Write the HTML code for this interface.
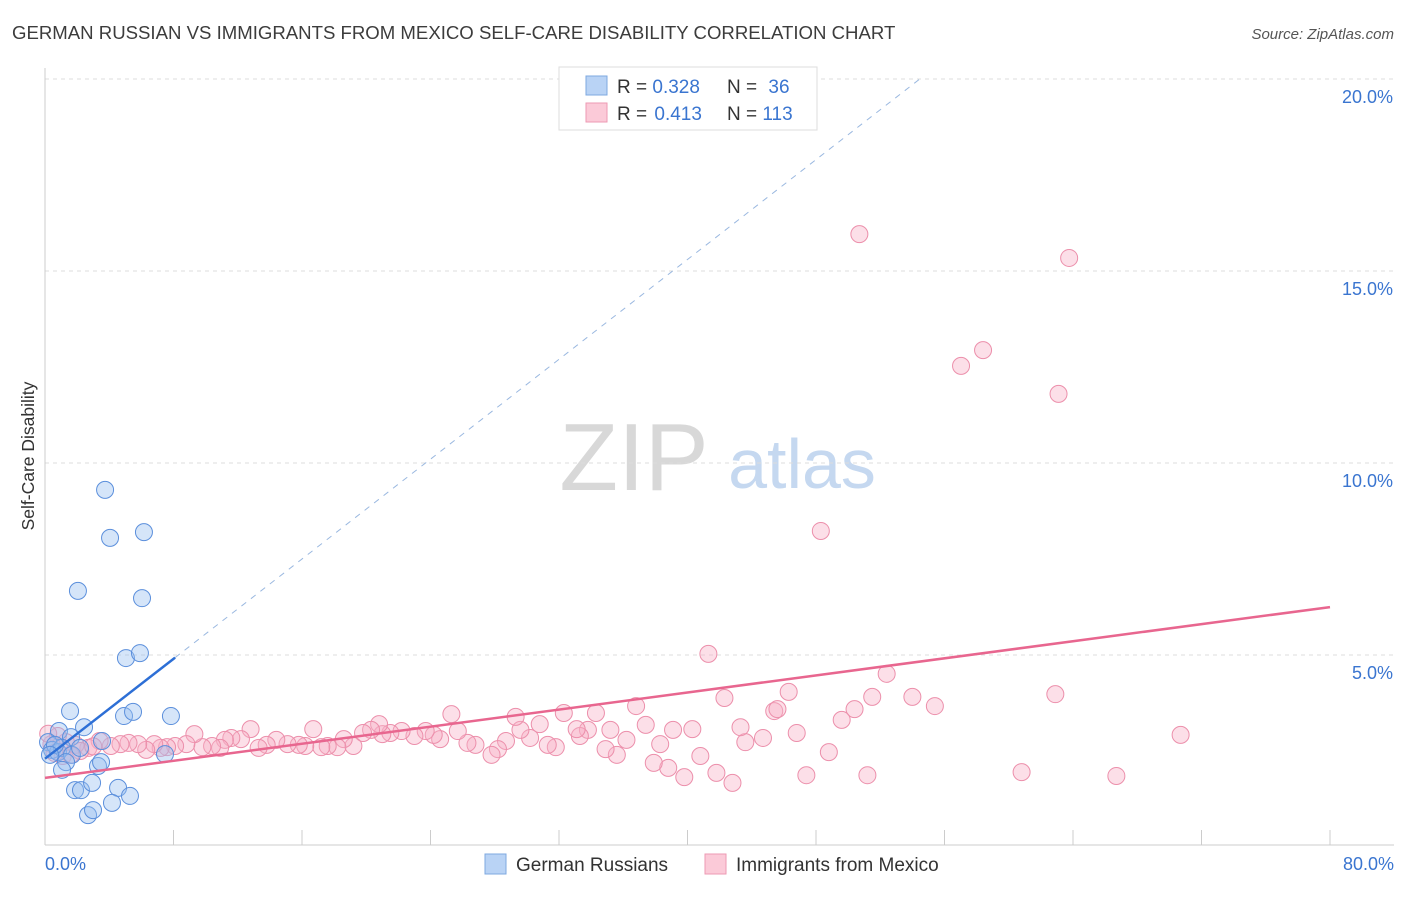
<!DOCTYPE html>
<html><head><meta charset="utf-8"><style>
body{margin:0;background:#fff;font-family:"Liberation Sans",sans-serif;}
svg text{font-family:"Liberation Sans",sans-serif;}
</style></head><body>
<svg id="chart" width="1406" height="892" xmlns="http://www.w3.org/2000/svg">
<text x="12" y="39" font-size="18.6" fill="#3c3c3c">GERMAN RUSSIAN VS IMMIGRANTS FROM MEXICO SELF-CARE DISABILITY CORRELATION CHART</text>
<text x="1394" y="39" font-size="15" fill="#555" text-anchor="end" font-style="italic">Source: ZipAtlas.com</text>
<g>
<text x="634" y="490" font-size="96" fill="#d8d8d8" text-anchor="middle" font-family="Liberation Serif, serif">ZIP</text>
<text x="802" y="488" font-size="70" fill="#c5d8f0" text-anchor="middle">atlas</text>
</g>
<g id="grid"></g>
<g id="axes"></g>
<g id="marks"></g>
<text transform="translate(34,456) rotate(-90)" font-size="17.5" fill="#333" text-anchor="middle">Self-Care Disability</text>
<g>
<rect x="559" y="67" width="258" height="63" fill="#fff" stroke="#ddd"/>
<rect x="586" y="76" width="21" height="19" fill="#b9d3f5" stroke="#7ea8e0"/>
<rect x="586" y="103" width="21" height="19" fill="#fbcad8" stroke="#ee9ab3"/>
<text x="617" y="93" font-size="19" fill="#333">R = <tspan fill="#3a75d0">0.328</tspan></text>
<text x="727" y="93" font-size="19" fill="#333">N = <tspan fill="#3a75d0" dx="6">36</tspan></text>
<text x="617" y="120" font-size="19" fill="#333">R = <tspan fill="#3a75d0" dx="2">0.413</tspan></text>
<text x="727" y="120" font-size="19" fill="#333">N = <tspan fill="#3a75d0">113</tspan></text>
</g>
<g>
<rect x="485" y="854" width="21" height="20" fill="#b9d3f5" stroke="#7ea8e0"/>
<text x="516" y="871" font-size="19" fill="#333">German Russians</text>
<rect x="705" y="854" width="21" height="20" fill="#fbcad8" stroke="#ee9ab3"/>
<text x="736" y="871" font-size="19" fill="#333">Immigrants from Mexico</text>
</g>
</svg>
<script>
const blueX=[3.74,4.05,6.16,2.05,6.04,5.04,5.91,1.56,4.92,5.48,7.84,0.87,2.43,1.62,0.19,0.44,0.81,1.06,1.68,1.31,3.55,7.47,1.06,3.30,3.49,1.87,2.24,2.93,4.55,5.29,2.68,2.99,4.17,0.62,0.31,2.18];
const blueY=[9.30,8.05,8.20,6.67,6.48,4.92,5.05,3.54,3.41,3.52,3.41,3.02,3.12,2.86,2.73,2.53,2.47,2.58,2.40,2.21,2.76,2.42,2.01,2.11,2.21,1.48,1.48,1.67,1.54,1.33,0.83,0.96,1.15,2.66,2.40,2.58];
const pinkX=[50.7,63.76,57.03,58.4,63.1,48.3,41.3,52.4,62.9,70.7,60.8,66.7,54.0,55.4,51.5,50.4,49.6,48.8,51.2,47.4,46.3,45.4,45.6,46.8,44.7,43.6,42.3,43.3,42.8,41.8,40.8,39.8,40.3,39.1,38.8,38.3,37.9,37.4,36.8,36.2,35.6,34.9,35.2,34.3,33.8,33.3,33.1,32.3,31.8,31.3,30.8,30.2,29.6,29.3,28.7,28.2,27.8,26.8,26.3,25.7,25.3,24.6,24.2,23.7,23.0,22.2,21.5,21.0,20.8,20.3,19.8,19.2,18.6,18.2,17.6,17.2,16.7,16.2,15.8,15.1,14.4,13.8,13.3,12.8,12.2,11.6,11.2,10.9,10.4,9.8,9.3,8.8,8.1,7.6,7.2,6.8,6.3,5.8,5.2,4.7,4.1,3.4,2.7,1.9,1.3,0.8,0.4,1.1,0.2,0.6,2.2,3.0,1.6];
const pinkY=[15.96,15.34,12.53,12.94,11.80,8.23,5.03,4.51,3.98,2.92,1.95,1.85,3.91,3.67,3.91,3.59,3.31,2.47,1.87,1.87,4.04,3.54,3.59,2.97,2.84,2.73,3.88,3.12,1.67,1.93,2.37,1.82,3.07,3.05,2.06,2.68,2.19,3.18,3.67,2.79,2.40,2.55,3.05,3.49,3.05,2.89,3.07,3.49,2.60,2.66,3.20,2.84,3.05,3.39,2.76,2.55,2.40,2.66,2.71,3.02,3.46,2.81,2.92,3.02,2.89,3.02,2.97,2.94,3.20,3.05,2.97,2.63,2.81,2.60,2.63,2.60,3.07,2.63,2.66,2.68,2.79,2.66,2.58,3.07,2.81,2.84,2.79,2.58,2.63,2.60,2.94,2.68,2.63,2.60,2.58,2.68,2.53,2.68,2.71,2.68,2.63,2.76,2.58,2.66,2.73,2.89,2.68,2.37,2.95,2.45,2.50,2.62,2.40];
const blueLine=[2.3,0.325];
const pinkLine=[1.80,0.0556];
const yTicks=[5,10,15,20];
const xTickVals=[0,8,16,24,32,40,48,56,64,72,80];
const NS="http://www.w3.org/2000/svg";
const sx=v=>45+v/80*1285;
const sy=v=>847-v/5*192;
function mk(parent,tag,attrs){const e=document.createElementNS(NS,tag);for(const k in attrs)e.setAttribute(k,attrs[k]);document.getElementById(parent).appendChild(e);return e;}
yTicks.forEach(t=>{
 const g=mk('grid','line',{x1:45,x2:1394,y1:sy(t),y2:sy(t),stroke:'#ddd','stroke-dasharray':'4,4'});
 
 
 const l=mk('axes','text',{x:1393,y:sy(t)+24,'font-size':18,fill:'#3a75d0','text-anchor':'end'});
 l.textContent=t.toFixed(1)+'%';
 
 
});
const ax=mk('axes','line',{x1:45,x2:45,y1:68,y2:845,stroke:'#ccc'});


const bx=mk('axes','line',{x1:45,x2:1394,y1:845,y2:845,stroke:'#ccc'});


xTickVals.forEach(t=>{
 const tk=mk('axes','line',{x1:sx(t),x2:sx(t),y1:830,y2:845,stroke:'#ccc'});
 
 
});
[[0,'0.0%','start',45],[80,'80.0%','end',1394]].forEach(d=>{
 const l=mk('axes','text',{x:d[3],y:870,'font-size':18,fill:'#3a75d0','text-anchor':d[2]});
 l.textContent=d[1];
 
 
});
pinkX.forEach((x,i)=>{
 const c=mk('marks','circle',{cx:sx(x),cy:sy(pinkY[i]),r:8.5,fill:'rgba(248,175,198,0.4)',stroke:'#ec8fab','stroke-width':1});
 
 
});
blueX.forEach((x,i)=>{
 const c=mk('marks','circle',{cx:sx(x),cy:sy(blueY[i]),r:8.5,fill:'rgba(150,190,240,0.4)',stroke:'#5b8fdc','stroke-width':1});
 
 
});
const xEnd=(20-blueLine[0])/blueLine[1];
const bd=mk('marks','line',{x1:sx(8.1),y1:sy(blueLine[0]+blueLine[1]*8.1),x2:sx(xEnd),y2:sy(20),stroke:'#9ab8e0','stroke-dasharray':'6,6','stroke-width':1});


const bl=mk('marks','line',{x1:sx(0),y1:sy(blueLine[0]),x2:sx(8.1),y2:sy(blueLine[0]+blueLine[1]*8.1),stroke:'#2d6fd6','stroke-width':2.5});


const pl=mk('marks','line',{x1:sx(0),y1:sy(pinkLine[0]),x2:sx(80),y2:sy(pinkLine[0]+pinkLine[1]*80),stroke:'#e8668f','stroke-width':2.5});


</script>
</body></html>
